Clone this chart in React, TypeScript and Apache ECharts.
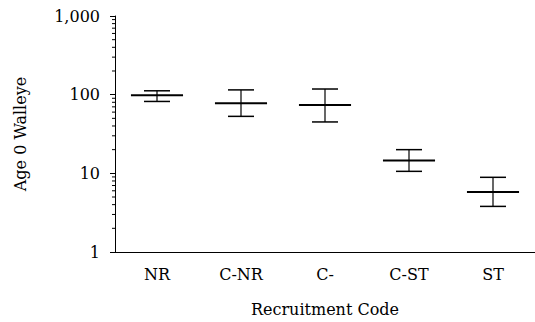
import React, { useEffect, useRef } from "react";
import * as echarts from "echarts";

const categories = ["NR", "C-NR", "C-", "C-ST", "ST"];
const means = [98, 78, 74, 14.6, 5.8];
const upper = [112, 115, 118, 20, 8.9];
const lower = [82, 53, 45, 10.6, 3.8];
const minorTickValues = [2, 3, 4, 5, 6, 7, 8, 9, 20, 30, 40, 50, 60, 70, 80, 90, 200, 300, 400, 500, 600, 700, 800, 900];

const FONT = "DejaVu Serif";
const FS = 16;

export default function App() {
  const ref = useRef<HTMLDivElement>(null);
  useEffect(() => {
    if (!ref.current) return;
    const chart = echarts.init(ref.current, null, { renderer: "svg" });
    const errData = categories.map((_, i) => [i, means[i], lower[i], upper[i]]);
    chart.setOption({
      animation: false,
      backgroundColor: "#ffffff",
      textStyle: { fontFamily: FONT },
      grid: { left: 115, right: -5, top: 16, bottom: 69 },
      xAxis: {
        type: "category",
        data: categories,
        boundaryGap: true,
        name: "Recruitment Code",
        nameLocation: "middle",
        nameGap: 49,
        nameTextStyle: { fontFamily: FONT, fontSize: FS, color: "#000" },
        axisLine: { lineStyle: { color: "#000", width: 1 } },
        axisTick: { alignWithLabel: true, length: 5, lineStyle: { color: "#000" } },
        axisLabel: { fontFamily: FONT, fontSize: FS, color: "#000", margin: 14 },
        splitLine: { show: false },
      },
      yAxis: {
        type: "log",
        logBase: 10,
        min: 1,
        max: 1000,
        name: "Age 0 Walleye",
        nameLocation: "middle",
        nameGap: 87,
        nameTextStyle: { fontFamily: FONT, fontSize: FS, color: "#000" },
        axisLine: { show: true, lineStyle: { color: "#000", width: 1 } },
        axisTick: { show: true, length: 5, lineStyle: { color: "#000" } },
        axisLabel: {
          fontFamily: FONT,
          fontSize: FS,
          color: "#000",
          margin: 15,
          formatter: (v: number) => Math.round(v).toLocaleString("en-US"),
        },
        splitLine: { show: false },
      },
      series: [
        {
          type: "custom",
          data: errData,
          encode: { x: 0, y: 1 },
          renderItem: (params: any, api: any) => {
            const i = api.value(0);
            const m = api.coord([i, api.value(1)]);
            const lo = api.coord([i, api.value(2)]);
            const hi = api.coord([i, api.value(3)]);
            const band = api.size([1, 0])[0];
            const mh = band * 0.31;
            const ch = band * 0.155;
            const stroke = { stroke: "#000", lineWidth: 1 };
            return {
              type: "group",
              children: [
                { type: "line", shape: { x1: m[0], y1: hi[1], x2: m[0], y2: lo[1] }, style: { ...stroke, lineWidth: 1.2 } },
                { type: "line", shape: { x1: m[0] - ch, y1: hi[1], x2: m[0] + ch, y2: hi[1] }, style: { ...stroke, lineWidth: 1.5 } },
                { type: "line", shape: { x1: m[0] - ch, y1: lo[1], x2: m[0] + ch, y2: lo[1] }, style: { ...stroke, lineWidth: 1.5 } },
                { type: "line", shape: { x1: m[0] - mh, y1: m[1], x2: m[0] + mh, y2: m[1] }, style: { ...stroke, lineWidth: 2 } },
              ],
            };
          },
        },
        {
          type: "custom",
          data: minorTickValues.map((v) => [0, v]),
          encode: { x: 0, y: 1 },
          silent: true,
          renderItem: (params: any, api: any) => {
            const p = api.coord([0, api.value(1)]);
            const x0 = params.coordSys.x;
            return {
              type: "line",
              shape: { x1: x0 - 3, y1: p[1], x2: x0, y2: p[1] },
              style: { stroke: "#000", lineWidth: 1 },
            };
          },
        },
      ],
    });
    return () => chart.dispose();
  }, []);
  return <div ref={ref} style={{ position: "fixed", left: 0, top: 0, width: 535, height: 322 }} />;
}
